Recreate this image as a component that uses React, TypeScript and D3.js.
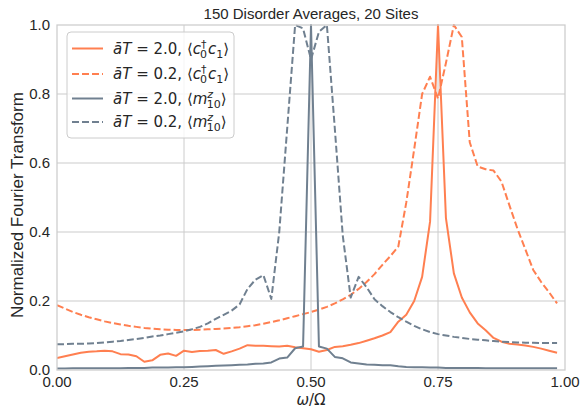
import React from 'react';
import * as d3 from 'd3';

const title = '150 Disorder Averages, 20 Sites';
const xTicks = [0, 0.25, 0.5, 0.75, 1.0];
const yTicks = [0, 0.2, 0.4, 0.6, 0.8, 1.0];
const nPoints = 64;
const omega = d3.range(nPoints).map((i) => i / nPoints);

// <c0^dagger c1>, aT = 2.0 (solid coral)
const cHot = [
  0.035, 0.040, 0.045, 0.050, 0.053, 0.054, 0.056, 0.054, 0.046, 0.045,
  0.040, 0.024, 0.028, 0.044, 0.048, 0.041, 0.056, 0.052, 0.055, 0.056,
  0.058, 0.047, 0.054, 0.062, 0.072, 0.070, 0.070, 0.069, 0.068, 0.070,
  0.066, 0.063, 0.060, 0.053, 0.058, 0.067, 0.069, 0.073, 0.078, 0.085,
  0.092, 0.100, 0.110, 0.140, 0.160, 0.200, 0.270, 0.430, 1.000, 0.440,
  0.280, 0.210, 0.167, 0.135, 0.115, 0.093, 0.082, 0.076, 0.074, 0.071,
  0.067, 0.062, 0.056, 0.050,
];
// <c0^dagger c1>, aT = 0.2 (dashed coral)
const cCold = [
  0.188, 0.178, 0.168, 0.160, 0.153, 0.147, 0.141, 0.136, 0.132, 0.128,
  0.125, 0.122, 0.120, 0.118, 0.117, 0.116, 0.116, 0.116, 0.117, 0.118,
  0.119, 0.120, 0.122, 0.124, 0.127, 0.130, 0.134, 0.139, 0.144, 0.150,
  0.156, 0.162, 0.168, 0.175, 0.183, 0.193, 0.205, 0.218, 0.235, 0.255,
  0.278, 0.305, 0.330, 0.358, 0.485, 0.640, 0.800, 0.850, 0.787, 0.890,
  1.000, 0.965, 0.660, 0.590, 0.582, 0.578, 0.546, 0.477, 0.410, 0.350,
  0.290, 0.255, 0.225, 0.193,
];
// <m10^z>, aT = 2.0 (solid slategray)
const mHot = [
  0.004, 0.004, 0.005, 0.005, 0.005, 0.005, 0.005, 0.005, 0.005, 0.006,
  0.006, 0.006, 0.007, 0.007, 0.007, 0.008, 0.008, 0.009, 0.010, 0.011,
  0.012, 0.013, 0.014, 0.015, 0.016, 0.018, 0.019, 0.022, 0.033, 0.036,
  0.063, 0.068, 1.000, 0.068, 0.062, 0.038, 0.034, 0.022, 0.019, 0.016,
  0.015, 0.014, 0.014, 0.011, 0.009, 0.008, 0.008, 0.007, 0.007, 0.006,
  0.006, 0.006, 0.006, 0.006, 0.005, 0.005, 0.005, 0.005, 0.005, 0.005,
  0.005, 0.005, 0.005, 0.005,
];
// <m10^z>, aT = 0.2 (dashed slategray)
const mCold = [
  0.075, 0.075, 0.076, 0.076, 0.077, 0.078, 0.080, 0.082, 0.084, 0.087,
  0.090, 0.093, 0.097, 0.100, 0.104, 0.108, 0.112, 0.118, 0.125, 0.135,
  0.148, 0.160, 0.172, 0.190, 0.235, 0.262, 0.275, 0.206, 0.400, 0.700,
  1.000, 0.990, 0.900, 0.980, 1.000, 0.700, 0.390, 0.210, 0.270, 0.240,
  0.205, 0.185, 0.168, 0.153, 0.140, 0.128, 0.118, 0.110, 0.104, 0.100,
  0.096, 0.093, 0.090, 0.088, 0.086, 0.084, 0.082, 0.081, 0.080, 0.079,
  0.079, 0.078, 0.078, 0.078,
];

const CORAL = '#ff7f50';
const SLATE = '#708090';
const TEXT = '#262626';

const W = 580;
const H = 409;
const L = 57;
const R = 565;
const T = 25;
const B = 370;

export default function App() {
  const x = d3.scaleLinear().domain([0, 1]).range([L, R]);
  const y = d3.scaleLinear().domain([0, 1]).range([B, T]);
  const line = d3
    .line<number>()
    .x((_, i) => x(omega[i]))
    .y((d) => y(d));

  const series = [
    { data: cHot, color: CORAL, dash: undefined as string | undefined },
    { data: cCold, color: CORAL, dash: '7,3' },
    { data: mHot, color: SLATE, dash: undefined },
    { data: mCold, color: SLATE, dash: '7,3' },
  ];

  const font = '"Liberation Sans", Arial, sans-serif';
  const mfont = '"DejaVu Sans", sans-serif';

  const legendRows = [48.5, 74, 98.5, 122];
  const lx = 113;
  const fs = 15;
  const sfs = 11;

  const aT = (val: string) => [
    <tspan key="a" fontStyle="italic">ā</tspan>,
    <tspan key="t" fontStyle="italic">T</tspan>,
    <tspan key="v">{` = ${val}, `}</tspan>,
  ];

  const cLabel = (val: string, yy: number) => (
    <text x={lx} y={yy + 5} fontFamily={mfont} fontSize={fs} fill={TEXT}>
      {aT(val)}
      <tspan>⟨</tspan>
      <tspan fontStyle="italic">c</tspan>
      <tspan fontSize={sfs} dy={-6}>†</tspan>
      <tspan fontSize={sfs} dx={-6.5} dy={10}>0</tspan>
      <tspan fontStyle="italic" dx={1} dy={-4}>c</tspan>
      <tspan fontSize={sfs} dy={4}>1</tspan>
      <tspan dy={-4}>⟩</tspan>
    </text>
  );
  const mLabel = (val: string, yy: number) => (
    <text x={lx} y={yy + 5} fontFamily={mfont} fontSize={fs} fill={TEXT}>
      {aT(val)}
      <tspan>⟨</tspan>
      <tspan fontStyle="italic">m</tspan>
      <tspan fontSize={sfs} fontStyle="italic" dy={-6}>z</tspan>
      <tspan fontSize={sfs} dx={-6.5} dy={10}>10</tspan>
      <tspan dy={-4}>⟩</tspan>
    </text>
  );

  return (
    <svg width={W} height={H} style={{ position: 'absolute', left: 0, top: 0 }}>
      <rect x={0} y={0} width={W} height={H} fill="#ffffff" />
      <defs>
        <clipPath id="plotclip">
          <rect x={L} y={T - 1} width={R - L} height={B - T + 2} />
        </clipPath>
      </defs>
      {/* grid */}
      {yTicks.slice(1, -1).map((t) => (
        <line key={'gy' + t} x1={L} x2={R} y1={y(t)} y2={y(t)} stroke="#dddddd" strokeWidth={1.5} />
      ))}
      {xTicks.slice(1, -1).map((t) => (
        <line key={'gx' + t} x1={x(t)} x2={x(t)} y1={T} y2={B} stroke="#cccccc" strokeWidth={1} />
      ))}
      {/* series */}
      <g clipPath="url(#plotclip)">
        {series.map((s, i) => (
          <path
            key={i}
            d={line(s.data) || ''}
            fill="none"
            stroke={s.color}
            strokeWidth={2}
            strokeDasharray={s.dash}
            strokeLinejoin="round"
          />
        ))}
      </g>
      {/* frame */}
      <rect x={L} y={T} width={R - L} height={B - T} fill="none" stroke="#cccccc" strokeWidth={1.25} />
      {/* ticks */}
      {yTicks.map((t) => (
        <text key={'ty' + t} x={L - 7} y={y(t) + 5} textAnchor="end" fontFamily={font} fontSize={15} fill={TEXT}>
          {t.toFixed(1)}
        </text>
      ))}
      {xTicks.map((t) => (
        <text key={'tx' + t} x={x(t)} y={B + 17} textAnchor="middle" fontFamily={font} fontSize={15} fill={TEXT}>
          {t.toFixed(2)}
        </text>
      ))}
      {/* labels */}
      <text x={(L + R) / 2} y={19} textAnchor="middle" fontFamily={font} fontSize={15} fill={TEXT}>
        {title}
      </text>
      <text x={(L + R) / 2} y={405} textAnchor="middle" fontFamily={mfont} fontSize={15} fill={TEXT}>
        <tspan fontStyle="italic">ω</tspan>
        <tspan>/Ω</tspan>
      </text>
      <text
        transform={`translate(23, 205) rotate(-90)`}
        textAnchor="middle"
        fontFamily={font}
        fontSize={17}
        fill={TEXT}
      >
        Normalized Fourier Transform
      </text>
      {/* legend */}
      <rect x={67} y={32} width={167} height={106} rx={4} fill="#ffffff" fillOpacity={0.8} stroke="#cccccc" strokeWidth={1} />
      {series.map((s, i) => (
        <line
          key={'ll' + i}
          x1={72}
          x2={103}
          y1={legendRows[i]}
          y2={legendRows[i]}
          stroke={s.color}
          strokeWidth={2}
          strokeDasharray={s.dash}
        />
      ))}
      {cLabel('2.0', legendRows[0])}
      {cLabel('0.2', legendRows[1])}
      {mLabel('2.0', legendRows[2])}
      {mLabel('0.2', legendRows[3])}
    </svg>
  );
}
